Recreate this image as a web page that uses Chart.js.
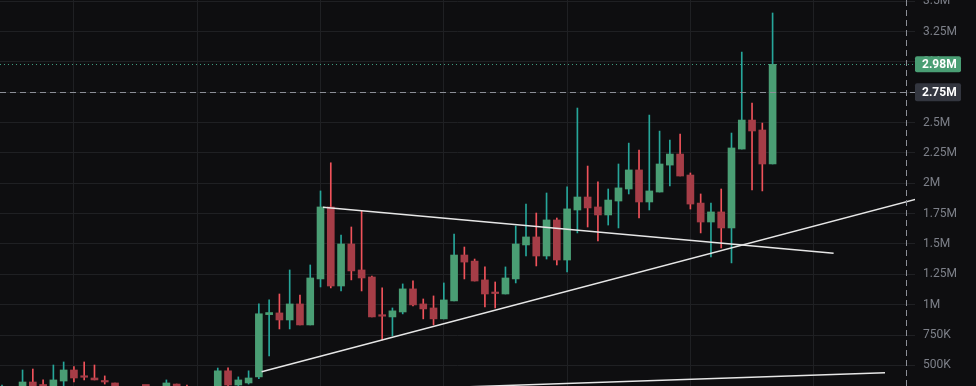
<!DOCTYPE html>
<html>
<head>
<meta charset="utf-8">
<script src="https://cdn.jsdelivr.net/npm/chart.js@4.4.1/dist/chart.umd.min.js"></script>
<style>
  html, body { margin: 0; padding: 0; background: #0e0e10; }
  #wrap { width: 976px; height: 386px; position: relative; }
</style>
</head>
<body>
<div id="wrap"><canvas id="c" width="976" height="386"></canvas></div>
<script>
// ---- Data (values in millions) ----
const opens  = [0.29,0.31,0.29,0.363,0.339,0.32,0.371,0.462,0.408,0.396,0.371,0.355,0.30,0.27,0.29,0.28,0.31,0.346,0.32,0.30,0.28,0.32,0.455,0.338,0.355,0.405,0.918,0.932,0.874,1.006,0.833,1.212,1.805,1.154,1.500,1.286,1.228,0.912,0.899,0.940,1.130,1.006,0.973,0.883,1.031,1.409,1.359,1.204,1.100,1.088,1.212,1.492,1.558,1.401,1.698,1.368,1.780,1.887,1.805,1.739,1.854,1.953,2.110,1.846,1.928,2.150,2.241,2.068,1.837,1.681,1.764,1.632,2.282,2.521,2.439,2.159];
const highs  = [0.338,0.325,0.462,0.470,0.380,0.503,0.528,0.489,0.528,0.503,0.413,0.355,0.32,0.31,0.32,0.31,0.380,0.346,0.338,0.32,0.31,0.478,0.480,0.405,0.455,1.006,1.039,1.088,1.286,1.080,1.327,1.937,2.169,1.574,1.640,1.772,1.236,1.138,0.973,1.171,1.196,1.047,1.072,1.179,1.582,1.475,1.376,1.311,1.187,1.311,1.648,1.829,1.755,1.920,1.714,1.970,2.620,2.142,2.011,1.953,2.159,2.331,2.274,2.562,2.430,2.356,2.406,2.085,1.912,1.837,1.953,2.414,3.081,2.661,2.496,3.403];
const lows   = [0.26,0.27,0.28,0.28,0.31,0.30,0.32,0.363,0.380,0.380,0.346,0.28,0.25,0.24,0.26,0.25,0.29,0.29,0.28,0.26,0.25,0.30,0.32,0.33,0.346,0.39,0.577,0.800,0.800,0.833,0.833,1.146,1.138,1.113,1.204,1.113,0.899,0.710,0.742,0.924,0.990,0.883,0.833,0.883,1.031,1.212,1.195,0.982,0.973,1.088,1.179,1.401,1.319,1.376,1.327,1.270,1.591,1.640,1.525,1.656,1.632,1.912,1.714,1.780,1.928,1.978,2.060,1.788,1.591,1.393,1.467,1.344,2.282,1.945,1.937,2.159];
const closes = [0.31,0.29,0.363,0.30,0.330,0.380,0.462,0.396,0.402,0.380,0.363,0.30,0.27,0.29,0.28,0.30,0.355,0.32,0.30,0.28,0.30,0.455,0.338,0.380,0.396,0.925,0.935,0.874,1.006,0.833,1.220,1.805,1.154,1.500,1.278,1.220,0.899,0.905,0.949,1.130,0.998,0.965,0.883,1.039,1.409,1.351,1.195,1.088,1.092,1.220,1.500,1.558,1.401,1.698,1.368,1.789,1.887,1.797,1.739,1.862,1.962,2.110,1.846,1.937,2.159,2.241,2.060,1.829,1.681,1.764,1.632,2.291,2.521,2.431,2.159,2.980];

// Drawn trend lines: [candle index, value in millions]
const trendLineA = [[31.24, 1.802], [80.94, 1.4234]];
const trendLineB = [[25.27, 0.4481], [89.5, 1.881]];
const trendLineC = [[45.0, 0.3224], [85.94, 0.440]];

// Price axis ticks (millions)
const priceTicks = [0.5,0.75,1,1.25,1.5,1.75,2,2.25,2.5,2.75,3,3.25,3.5];
// Vertical grid positions (candle indices)
const timeGridIdx = [7,19,31,43,55,67,79];

const lastPrice = 2.98;         // last close label
const crosshair = { index: 88, value: 2.75 };

const M = 1e6;
const fmt = v => v >= M ? (Math.round(v / M * 100) / 100) + 'M' : Math.round(v / 1000) + 'K';

const GREEN_BODY = '#4a9e74', RED_BODY = '#a63d47';
const GREEN_WICK = '#26a69a', RED_WICK = '#f0525a';

const up = closes.map((c, i) => c >= opens[i]);
const bodyData = opens.map((o, i) => ({ x: i, y: [o * M, closes[i] * M] }));
const wickData = opens.map((o, i) => ({ x: i, y: [lows[i] * M, highs[i] * M] }));
const toPts = arr => arr.map(p => ({ x: p[0], y: p[1] * M }));

const lineStyle = {
  type: 'line', borderColor: '#e6e6e6', borderWidth: 1.5, pointRadius: 0,
  fill: false, tension: 0, order: 0
};

const bgPlugin = {
  id: 'bg',
  beforeDraw(chart) {
    const { ctx, width, height } = chart;
    ctx.save();
    ctx.fillStyle = '#0e0e10';
    ctx.fillRect(0, 0, width, height);
    ctx.restore();
  }
};

const overlayPlugin = {
  id: 'overlay',
  afterDraw(chart) {
    const { ctx, chartArea, scales } = chart;
    const ys = scales.y, xs = scales.x;
    const yLast = ys.getPixelForValue(lastPrice * M);
    const yCross = ys.getPixelForValue(crosshair.value * M);
    const xCross = xs.getPixelForValue(crosshair.index);
    ctx.save();
    ctx.strokeStyle = '#3f9d80';
    ctx.lineWidth = 1;
    ctx.setLineDash([1, 3]);
    ctx.beginPath();
    ctx.moveTo(chartArea.left, Math.round(yLast) + 0.5);
    ctx.lineTo(chartArea.right, Math.round(yLast) + 0.5);
    ctx.stroke();
    ctx.strokeStyle = '#8c8f97';
    ctx.setLineDash([6, 4]);
    ctx.beginPath();
    ctx.moveTo(chartArea.left, Math.round(yCross) + 0.5);
    ctx.lineTo(chartArea.right, Math.round(yCross) + 0.5);
    ctx.stroke();
    ctx.beginPath();
    ctx.moveTo(Math.round(xCross) + 0.5, chartArea.top);
    ctx.lineTo(Math.round(xCross) + 0.5, chartArea.bottom);
    ctx.stroke();
    ctx.setLineDash([]);
    const drawLabel = (y, h, bg, text) => {
      const x0 = chartArea.right, w = 46;
      ctx.fillStyle = bg;
      ctx.beginPath();
      if (ctx.roundRect) ctx.roundRect(x0, y - h / 2, w, h, 2); else ctx.rect(x0, y - h / 2, w, h);
      ctx.fill();
      ctx.fillStyle = '#ffffff';
      ctx.font = 'bold 12px Roboto, "Noto Sans", sans-serif';
      ctx.textBaseline = 'middle';
      ctx.textAlign = 'left';
      ctx.fillText(text, x0 + 7, y + 0.5);
    };
    drawLabel(yLast, 16, GREEN_BODY, fmt(lastPrice * M));
    drawLabel(yCross, 18, '#33363f', fmt(crosshair.value * M));
    ctx.restore();
  }
};

new Chart(document.getElementById('c'), {
  type: 'bar',
  data: {
    datasets: [
      { ...lineStyle, data: toPts(trendLineA) },
      { ...lineStyle, data: toPts(trendLineB) },
      { ...lineStyle, data: toPts(trendLineC) },
      {
        type: 'bar', data: bodyData, grouped: false, barThickness: 7, minBarLength: 1.5,
        backgroundColor: up.map(u => u ? GREEN_BODY : RED_BODY), borderWidth: 0, order: 1
      },
      {
        type: 'bar', data: wickData, grouped: false, barThickness: 1,
        backgroundColor: up.map(u => u ? GREEN_WICK : RED_WICK), borderWidth: 0, order: 2
      }
    ]
  },
  options: {
    responsive: false,
    animation: false,
    devicePixelRatio: 1,
    layout: { padding: 0 },
    plugins: { legend: { display: false }, tooltip: { enabled: false } },
    scales: {
      x: {
        type: 'linear', offset: false,
        min: -0.195, max: 88.86,
        afterBuildTicks: s => { s.ticks = timeGridIdx.map(v => ({ value: v })); },
        afterFit: s => { s.height = 0; s.paddingLeft = 0; s.paddingRight = 0; },
        ticks: { display: false },
        grid: { color: '#1f2023', drawTicks: false, lineWidth: 1, offset: false },
        border: { display: false }
      },
      y: {
        type: 'linear', position: 'right',
        min: 0.33 * M, max: 3.51 * M,
        afterBuildTicks: s => { s.ticks = priceTicks.map(v => ({ value: v * M })); },
        afterFit: s => { s.width = 61; s.paddingTop = 0; s.paddingBottom = 0; },
        ticks: {
          autoSkip: false, padding: 8, color: '#7d8089',
          font: { family: 'Roboto, "Noto Sans", sans-serif', size: 12 },
          callback: v => fmt(v)
        },
        grid: { color: '#1f2023', drawTicks: false, lineWidth: 1 },
        border: { display: false }
      }
    }
  },
  plugins: [bgPlugin, overlayPlugin]
});
</script>
</body>
</html>
